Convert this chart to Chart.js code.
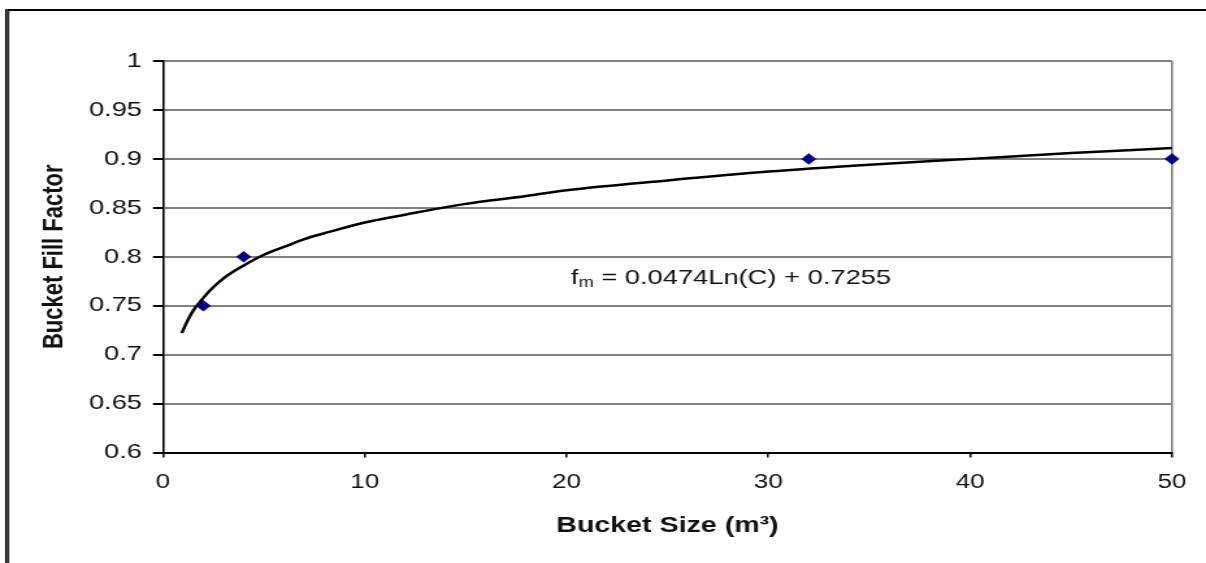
<!DOCTYPE html>
<html>
<head>
<meta charset="utf-8">
<title>Bucket Fill Factor</title>
<script src="https://cdn.jsdelivr.net/npm/chart.js@4.4.1/dist/chart.umd.min.js"></script>
<style>
  html, body { margin: 0; padding: 0; background: #fff; }
  #wrap { position: relative; width: 1206px; height: 563px; overflow: hidden; }
  /* page frame around the figure */
  #frameLeft { position: absolute; left: 5px; top: 9px; width: 4px; height: 560px; background: #3a3a3a; border-right: 1px solid #aaa; }
  #frameTop { position: absolute; left: 8px; top: 9px; right: 0; height: 2px; background: #000; }
  #chart { position: absolute; left: 0; top: 0; }
</style>
</head>
<body>
<div id="wrap">
  <!-- bitmap is drawn narrow and stretched wide, like the original figure -->
  <canvas id="chart" width="928" height="563" style="width:1206px;height:563px"></canvas>
  <div id="frameLeft"></div>
  <div id="frameTop"></div>
</div>
<script>
// measured buckets
const bucketSize = [2, 4, 32, 50];
const fillFactor = [0.75, 0.8, 0.9, 0.9];

// log trend line
const trendSize = [0.93, 1.2, 1.5, 2, 2.5, 3, 4, 5, 6, 7, 8, 10, 12, 15, 18, 20, 25, 30, 35, 40, 45, 50];
const trendFill = [0.722, 0.734, 0.745, 0.758, 0.769, 0.778, 0.791, 0.802, 0.810, 0.818, 0.824, 0.835, 0.843, 0.854, 0.862, 0.868, 0.878, 0.887, 0.894, 0.900, 0.906, 0.911];

const xTicks = [0, 10, 20, 30, 40, 50];
const xTickLabels = ['0', '10', '20', '30', '40', '50'];
const yTicks = [0.6, 0.65, 0.7, 0.75, 0.8, 0.85, 0.9, 0.95, 1];
const yTickLabels = ['0.6', '0.65', '0.7', '0.75', '0.8', '0.85', '0.9', '0.95', '1'];

const FONT = '"Liberation Sans", Arial, sans-serif';

// writes the fitted equation inside the plot, f with subscript m
const equationLabel = {
  id: 'equationLabel',
  afterDatasetsDraw(chart, args, opts) {
    const { ctx, scales: { x, y } } = chart;
    const px = x.getPixelForValue(opts.x);
    const py = y.getPixelForValue(opts.y);
    const rest = ' = 0.0474Ln(C) + 0.7255';
    ctx.save();
    ctx.fillStyle = '#111';
    ctx.textBaseline = 'middle';
    ctx.textAlign = 'left';
    ctx.font = '21px ' + FONT;
    const wF = ctx.measureText('f').width;
    const wRest = ctx.measureText(rest).width;
    ctx.font = '14px ' + FONT;
    const wM = ctx.measureText('m').width;
    let cx = px - (wF + wM + wRest) / 2;
    ctx.font = '21px ' + FONT;
    ctx.fillText('f', cx, py);
    cx += wF;
    ctx.font = '14px ' + FONT;
    ctx.fillText('m', cx, py + 5);
    cx += wM;
    ctx.font = '21px ' + FONT;
    ctx.fillText(rest, cx, py);
    ctx.restore();
  }
};

new Chart(document.getElementById('chart'), {
  type: 'scatter',
  data: {
    datasets: [
      {
        label: 'Measured',
        data: bucketSize.map((v, i) => ({ x: v, y: fillFactor[i] })),
        pointStyle: 'rectRot',
        pointRadius: 5.5,
        pointBackgroundColor: '#00008b',
        pointBorderColor: '#00008b',
        pointBorderWidth: 0.5,
        showLine: false,
        clip: false,
        order: 0
      },
      {
        label: 'Trend',
        data: trendSize.map((v, i) => ({ x: v, y: trendFill[i] })),
        showLine: true,
        borderColor: '#000',
        borderWidth: 2.5,
        pointRadius: 0,
        cubicInterpolationMode: 'monotone',
        clip: false,
        order: 1
      }
    ]
  },
  options: {
    responsive: false,
    animation: false,
    devicePixelRatio: 1,
    layout: { padding: { left: 0, top: 61, right: 26.2, bottom: 0 } },
    plugins: {
      legend: { display: false },
      tooltip: { enabled: false },
      equationLabel: { x: 28.15, y: 0.778 }
    },
    scales: {
      x: {
        type: 'linear',
        min: 0,
        max: 50,
        afterFit: s => { s.height = 110.5; },
        afterBuildTicks: s => { s.ticks = xTicks.map(v => ({ value: v })); },
        ticks: {
          callback: (v, i) => xTickLabels[i],
          font: { family: FONT, size: 20 },
          color: '#111',
          padding: 12.5,
          maxRotation: 0
        },
        grid: {
          color: c => (c.tick && c.tick.value === 50 ? '#808080' : 'rgba(0,0,0,0)'),
          lineWidth: 1.6,
          tickColor: '#000',
          tickLength: 5,
          tickWidth: 1.5
        },
        border: { display: true, color: '#000', width: 2 },
        title: {
          display: true,
          text: 'Bucket Size (m³)',
          font: { family: FONT, size: 22, weight: 'bold' },
          color: '#111',
          padding: { top: 0, bottom: 24 }
        }
      },
      y: {
        type: 'linear',
        min: 0.6,
        max: 1,
        afterFit: s => { s.width = 125.4; },
        afterBuildTicks: s => { s.ticks = yTicks.map(v => ({ value: v })); },
        ticks: {
          callback: (v, i) => yTickLabels[i],
          font: { family: FONT, size: 21 },
          color: '#111',
          padding: 8.4
        },
        grid: {
          color: '#808080',
          lineWidth: 2,
          tickColor: '#000',
          tickLength: 7.7,
          tickWidth: 2
        },
        border: { display: true, color: '#000', width: 1.6 },
        title: {
          display: true,
          text: 'Bucket Fill Factor',
          font: { family: FONT, size: 22, weight: 'bold' },
          color: '#111',
          padding: { top: 29, bottom: 0 }
        }
      }
    }
  },
  plugins: [equationLabel]
});
</script>
</body>
</html>
